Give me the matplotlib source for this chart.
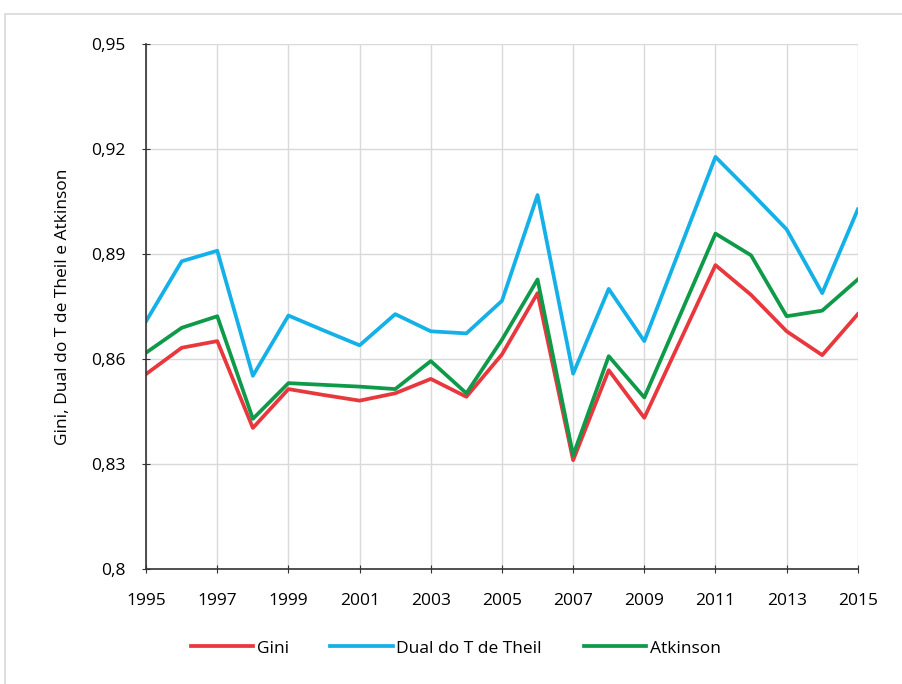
import matplotlib.pyplot as plt
from matplotlib.patches import Rectangle

# Data
years = list(range(1995, 2016))
gini = [0.8557, 0.8632, 0.8651, 0.8403, 0.8514, 0.8497, 0.8481, 0.8502, 0.8543, 0.8492,
        0.8613, 0.8788, 0.8311, 0.8568, 0.8432, 0.8650, 0.8868, 0.8783, 0.8679, 0.8611, 0.8728]
theil = [0.8708, 0.8879, 0.8909, 0.8552, 0.8724, 0.8681, 0.8639, 0.8728, 0.8679, 0.8673,
         0.8766, 0.9068, 0.8558, 0.8800, 0.8651, 0.8914, 0.9177, 0.9075, 0.8970, 0.8788, 0.9027]
atkinson = [0.8618, 0.8689, 0.8722, 0.8429, 0.8531, 0.8526, 0.8521, 0.8514, 0.8594, 0.8502,
            0.8655, 0.8827, 0.8325, 0.8608, 0.8490, 0.8724, 0.8958, 0.8896, 0.8722, 0.8738, 0.8827]

x_ticks = list(range(1995, 2016, 2))
y_ticks = [0.80, 0.83, 0.86, 0.89, 0.92, 0.95]
y_labels = ['0,8', '0,83', '0,86', '0,89', '0,92', '0,95']

plt.rcParams['font.family'] = ['Open Sans', 'DejaVu Sans']

fig = plt.figure(figsize=(9.02, 6.84), dpi=100)
ax = fig.add_axes([0.162, 0.168, 0.789, 0.768])

# outer chart border
fig.patches.append(Rectangle((0.006, -0.01), 1.0, 0.99, transform=fig.transFigure,
                             fill=False, edgecolor='#d9d9d9', linewidth=1.2))

ax.plot(years, gini, color='#e8383d', linewidth=2.7, label='Gini')
ax.plot(years, theil, color='#14b0e8', linewidth=2.7, label='Dual do T de Theil')
ax.plot(years, atkinson, color='#0f9a4a', linewidth=2.7, label='Atkinson')

ax.set_xlim(1995, 2015)
ax.set_ylim(0.80, 0.95)
ax.set_xticks(x_ticks)
ax.set_yticks(y_ticks)
ax.set_yticklabels(y_labels)
ax.tick_params(axis='both', labelsize=12.5, direction='inout', length=6, color='#333333')
ax.tick_params(axis='x', pad=14)
ax.tick_params(axis='y', pad=12)
ax.grid(True, color='#d9d9d9', linewidth=1)
ax.set_axisbelow(True)
for s in ['top', 'right']:
    ax.spines[s].set_visible(False)
for s in ['left', 'bottom']:
    ax.spines[s].set_color('#333333')
    ax.spines[s].set_linewidth(1.2)

ax.set_ylabel('Gini, Dual do T de Theil e Atkinson', fontsize=12.5, labelpad=14)

fig.legend(loc='center', bbox_to_anchor=(0.505, 0.052), ncol=3, frameon=False,
           fontsize=12.5, handlelength=3.6, columnspacing=2.4, handletextpad=0.2)

fig.savefig('out.png', dpi=100)
